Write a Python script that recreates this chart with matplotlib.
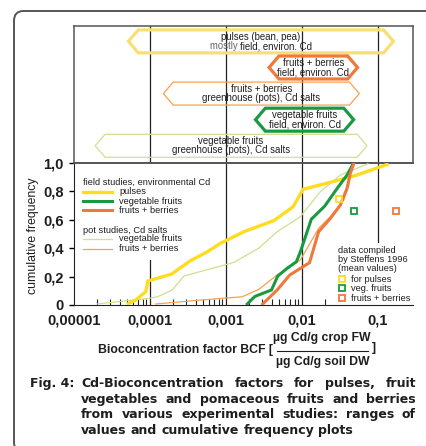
import numpy as np
import matplotlib.pyplot as plt
from matplotlib.patches import Polygon, Rectangle, FancyBboxPatch
from matplotlib.ticker import LogLocator, NullFormatter

plt.rcParams['font.family'] = ['Liberation Sans', 'DejaVu Sans']

# ranges of BCF values (upper panel)
range_line1 = ['pulses (bean, pea)', 'fruits + berries', 'fruits + berries',
               'vegetable fruits', 'vegetable fruits']
range_line2 = ['mostly field, environ. Cd', 'field, environ. Cd', 'greenhouse (pots), Cd salts',
               'field, environ. Cd', 'greenhouse (pots), Cd salts']
range_lo = [5.2e-5, 3.7e-3, 1.5e-4, 2.45e-3, 1.9e-5]
range_hi = [0.16, 0.054, 0.057, 0.048, 0.072]

# cumulative frequency curves
pulses_bcf = [5.2e-5, 6.5e-5, 8.8e-5, 9.4e-5, 1.93e-4, 3.36e-4, 5.7e-4, 8.5e-4,
              1.72e-3, 4.27e-3, 7.66e-3, 1.04e-2, 2.62e-2, 5.3e-2, 0.132]
pulses_cf = [0.01, 0.035, 0.094, 0.169, 0.218, 0.31, 0.375, 0.435,
             0.516, 0.594, 0.692, 0.815, 0.87, 0.915, 0.99]

vegf_bcf = [1.91e-3, 2.4e-3, 3.98e-3, 4.81e-3, 6.38e-3, 8.47e-3, 9.55e-3,
            1.33e-2, 2.0e-2, 2.9e-2, 3.93e-2, 4.71e-2]
vegf_cf = [0.007, 0.06, 0.106, 0.204, 0.258, 0.305, 0.375,
           0.604, 0.697, 0.82, 0.915, 0.993]

fruf_bcf = [3.05e-3, 4.72e-3, 6.92e-3, 9.55e-3, 1.26e-2, 1.66e-2, 2.37e-2,
            3.21e-2, 3.93e-2, 4.34e-2, 4.79e-2]
fruf_cf = [0.007, 0.106, 0.211, 0.258, 0.298, 0.516, 0.61, 0.704, 0.822, 0.927, 0.993]

vegp_bcf = [2.0e-5, 9.8e-5, 1.26e-4, 1.97e-4, 2.8e-4, 1.27e-3, 2.7e-3, 4.72e-3,
            9.55e-3, 1.75e-2, 3.21e-2, 7.4e-2]
vegp_cf = [0.007, 0.047, 0.058, 0.106, 0.204, 0.30, 0.40, 0.516, 0.622, 0.798, 0.915, 0.995]

frup_bcf = [1.19e-4, 4.68e-4, 1.64e-3, 2.7e-3, 4.72e-3, 9.55e-3, 1.66e-2,
            2.49e-2, 3.55e-2, 4.12e-2, 4.57e-2]
frup_cf = [0.007, 0.035, 0.058, 0.11, 0.211, 0.317, 0.54, 0.634, 0.739, 0.845, 0.986]

# Steffens 1996 mean values
steffens_bcf = [0.0305, 0.0479, 0.175]
steffens_cf = [0.75, 0.662, 0.662]

xtick_vals = [1e-5, 1e-4, 1e-3, 1e-2, 1e-1]
xtick_labels = ['0,00001', '0,0001', '0,001', '0,01', '0,1']
ytick_vals = [0, 0.2, 0.4, 0.6, 0.8, 1.0]
ytick_labels = ['0', '0,2', '0,4', '0,6', '0,8', '1,0']

YELLOW = '#ffdc1e'
GREEN = '#1a9a40'
ORANGE = '#f0783a'
LGREEN = '#cfe08e'
LORANGE = '#f6a24e'
range_colors = ['#f8df72', ORANGE, LORANGE, GREEN, LGREEN]
range_lw = [2.3, 2.3, 0.9, 2.3, 0.9]
TXT = '#1e1e1e'

W, H = 426, 446
def fx(px):
    return px / W
def fy(py):
    return 1 - py / H

fig = plt.figure(figsize=(4.26, 4.46), dpi=100)
renderer = fig.canvas.get_renderer()

# outer rounded frame
frame = FancyBboxPatch((fx(14), fy(452)), 1.2, fy(11) - fy(452), transform=fig.transFigure,
                       boxstyle='round,pad=0,rounding_size=0.022', fc='none', ec='#555555', lw=1.4)
fig.add_artist(frame)

x0, x1 = fx(74), fx(413)
ax_top = fig.add_axes([x0, fy(163), x1 - x0, fy(26) - fy(163)])
ax = fig.add_axes([x0, fy(305), x1 - x0, fy(163) - fy(305)])

# ---- upper panel: ranges
ax_top.set_xscale('log')
ax_top.set_xlim(1e-5, 0.29)
ax_top.set_ylim(4.66, -0.59)
ax_top.set_xticks([])
ax_top.set_yticks([])
ax_top.minorticks_off()
for s in ax_top.spines.values():
    s.set_color('#555555')
    s.set_linewidth(1.1)
for v in xtick_vals[1:]:
    ax_top.axvline(v, color='#222222', lw=0.9, zorder=1)

bevel = 10 ** 0.13
hh = 0.44
hfs = 6.9
for i in range(len(range_lo)):
    lo, hi = range_lo[i], range_hi[i]
    verts = [(lo, i), (lo * bevel, i - hh), (hi / bevel, i - hh), (hi, i),
             (hi / bevel, i + hh), (lo * bevel, i + hh)]
    ax_top.add_patch(Polygon(verts, closed=True, fc='none', ec=range_colors[i],
                             lw=range_lw[i], joinstyle='miter', zorder=2))
    xc = np.sqrt(lo * hi)
    ax_top.text(xc, i - 0.17, range_line1[i], ha='center', va='center', fontsize=hfs,
                color=TXT, zorder=3)
    if range_line2[i].startswith('mostly'):
        t1 = ax_top.text(xc, i + 0.18, 'mostly ', ha='center', va='center', fontsize=hfs,
                         color='#666666', zorder=3)
        t2 = ax_top.text(xc, i + 0.18, 'field, environ. Cd', ha='center', va='center',
                         fontsize=hfs, color=TXT, zorder=3)
        w1 = t1.get_window_extent(renderer).width
        w2 = t2.get_window_extent(renderer).width
        disp = ax_top.transData.transform((xc, i + 0.18))
        left = disp[0] - (w1 + w2) / 2
        inv = ax_top.transData.inverted()
        t1.set_position(inv.transform((left + w1 / 2, disp[1])))
        t2.set_position(inv.transform((left + w1 + w2 / 2, disp[1])))
    else:
        ax_top.text(xc, i + 0.18, range_line2[i], ha='center', va='center', fontsize=hfs,
                    color=TXT, zorder=3)

# ---- lower panel: cumulative frequency
ax.set_xscale('log')
ax.set_xlim(1e-5, 0.29)
ax.set_ylim(0, 1.0)
for v in xtick_vals[1:]:
    ax.axvline(v, color='#222222', lw=0.9, zorder=1)

ax.plot(vegp_bcf, vegp_cf, color=LGREEN, lw=0.9, zorder=4)
ax.plot(frup_bcf, frup_cf, color=LORANGE, lw=0.9, zorder=4)
ax.plot(pulses_bcf, pulses_cf, color=YELLOW, lw=2.4, zorder=5, solid_joinstyle='miter')
ax.plot(vegf_bcf, vegf_cf, color=GREEN, lw=2.2, zorder=5, solid_joinstyle='miter')
ax.plot(fruf_bcf, fruf_cf, color=ORANGE, lw=2.2, zorder=5, solid_joinstyle='miter')
sq_colors = [YELLOW, GREEN, ORANGE]
for i in range(3):
    ax.plot(steffens_bcf[i], steffens_cf[i], 's', ms=5, mfc='none', mec=sq_colors[i],
            mew=1.3, zorder=5)

ax.set_xticks(xtick_vals)
ax.set_xticklabels(xtick_labels, fontsize=10.5, fontweight='bold', color=TXT)
ax.xaxis.set_minor_locator(LogLocator(base=10, subs=np.arange(2, 10)))
ax.xaxis.set_minor_formatter(NullFormatter())
ax.tick_params(axis='x', which='major', direction='in', length=0, pad=6)
ax.tick_params(axis='x', which='minor', direction='in', length=4, width=0.8, color='#222222')
ax.set_yticks(ytick_vals)
ax.set_yticklabels(ytick_labels, fontsize=10.5, fontweight='bold', color=TXT)
ax.tick_params(axis='y', direction='out', length=3.5, width=1, pad=4)
ax.spines['right'].set_visible(False)
ax.spines['top'].set_color('#555555')
ax.spines['top'].set_linewidth(1.4)
ax.spines['left'].set_color('#222222')
ax.spines['bottom'].set_color('#222222')

# legend (field / pot studies)
ax.add_patch(Rectangle((0.01, 0.32), 0.41, 0.67, transform=ax.transAxes, fc='white',
                       ec='none', zorder=2))
lfs = 6.7
ax.text(0.0256, 0.866, 'field studies, environmental Cd', transform=ax.transAxes,
        fontsize=lfs, va='center', color=TXT, zorder=6)
ax.text(0.0256, 0.528, 'pot studies, Cd salts', transform=ax.transAxes,
        fontsize=lfs, va='center', color=TXT, zorder=6)
leg_items = [('pulses', YELLOW, 2.4, 0.796), ('vegetable fruits', GREEN, 2.2, 0.730),
             ('fruits + berries', ORANGE, 2.2, 0.669), ('vegetable fruits', LGREEN, 0.9, 0.465),
             ('fruits + berries', LORANGE, 0.9, 0.397)]
for lab, c, lw, yy in leg_items:
    ax.plot([0.0275, 0.113], [yy, yy], transform=ax.transAxes, color=c, lw=lw, zorder=6)
    ax.text(0.1337, yy, lab, transform=ax.transAxes, fontsize=lfs, va='center',
            color=TXT, zorder=6)

# legend (Steffens)
ax.add_patch(Rectangle((0.77, 0.0), 0.23, 0.44, transform=ax.transAxes, fc='white',
                       ec='none', zorder=2))
for lab, yy in [('data compiled', 0.387), ('by Steffens 1996', 0.322), ('(mean values)', 0.258)]:
    ax.text(0.779, yy, lab, transform=ax.transAxes, fontsize=lfs, va='center',
            color=TXT, zorder=6)
for lab, c, yy in [('for pulses', YELLOW, 0.181), ('veg. fruits', GREEN, 0.118),
                   ('fruits + berries', ORANGE, 0.047)]:
    ax.plot([0.792], [yy], 's', transform=ax.transAxes, ms=5, mfc='none', mec=c,
            mew=1.3, zorder=6)
    ax.text(0.816, yy, lab, transform=ax.transAxes, fontsize=lfs, va='center',
            color=TXT, zorder=6)

# axis labels
fig.text(fx(33), fy(235.5), 'cumulative frequency', rotation=90, ha='center', va='center',
         fontsize=8.8, color=TXT)
fig.text(fx(273), fy(350), 'Bioconcentration factor BCF [', ha='right', va='center',
         fontsize=8.8, fontweight='bold', color=TXT)
fig.text(fx(322), fy(338.5), 'µg Cd/g crop FW', ha='center', va='center',
         fontsize=8.8, fontweight='bold', color=TXT)
fig.text(fx(322.5), fy(361.5), 'µg Cd/g soil DW', ha='center', va='center',
         fontsize=8.8, fontweight='bold', color=TXT)
fig.add_artist(plt.Line2D([fx(277), fx(368)], [fy(350.5), fy(350.5)],
                          transform=fig.transFigure, color=TXT, lw=0.8))
fig.text(fx(372), fy(348.5), ']', ha='left', va='center', fontsize=8.8,
         fontweight='bold', color=TXT)

# caption, justified
cap_lines = ['Cd-Bioconcentration factors for pulses, fruit',
             'vegetables and pomaceous fruits and berries',
             'from various experimental studies: ranges of',
             'values and cumulative frequency plots']
cap_base = [387, 402.7, 418.4, 434]
cfs = 9.0
cfam = 'DejaVu Sans'
fig.text(fx(30), fy(cap_base[0]), 'Fig. 4:', ha='left', va='baseline', fontsize=cfs,
         fontweight='bold', family=cfam, color=TXT)
cap_left, cap_right = 81, 416
space_w = fig.text(0, 0, ' ', fontsize=cfs, fontweight='bold', family=cfam).get_window_extent(renderer).width
for k, line in enumerate(cap_lines):
    words = line.split(' ')
    texts = [fig.text(0, fy(cap_base[k]), w, ha='left', va='baseline', fontsize=cfs,
                      fontweight='bold', family=cfam, color=TXT) for w in words]
    widths = [t.get_window_extent(renderer).width for t in texts]
    if k < len(cap_lines) - 1:
        gap = (cap_right - cap_left - sum(widths)) / (len(words) - 1)
    else:
        gap = space_w
    xpos = cap_left
    for t, w in zip(texts, widths):
        t.set_x(fx(xpos))
        xpos += w + gap

fig.savefig('out.png', dpi=100)
